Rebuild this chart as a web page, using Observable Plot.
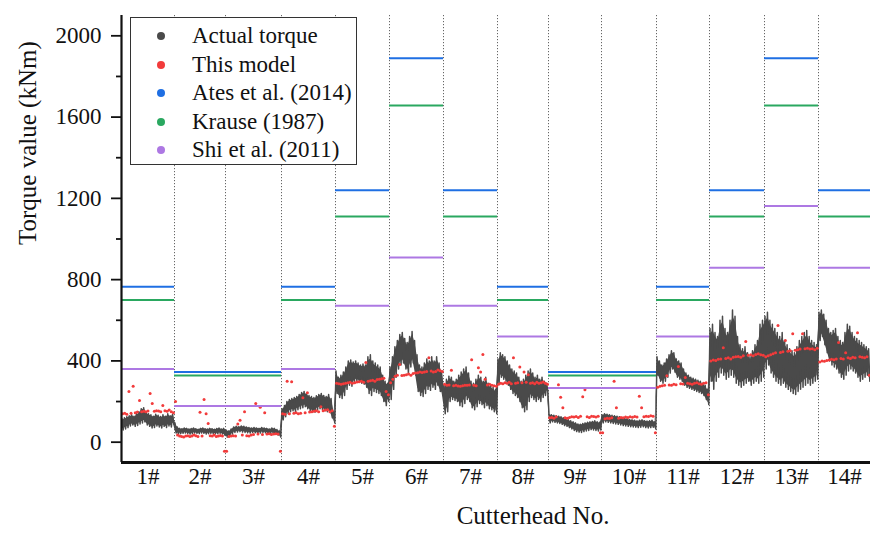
<!DOCTYPE html>
<html><head><meta charset="utf-8">
<script src="https://cdn.jsdelivr.net/npm/d3@7"></script>
<script src="https://cdn.jsdelivr.net/npm/@observablehq/plot@0.6"></script>
<style>
body{margin:0;background:#fff;font-family:"Liberation Serif","Tinos","Times New Roman","DejaVu Serif",serif;}
#wrap{position:relative;width:870px;height:538px;}
#legend{position:absolute;left:130px;top:17px;width:227px;height:148px;border:1px solid #333;background:#fff;box-sizing:border-box;}
.row{position:absolute;left:0;height:28px;font-size:23px;line-height:28px;color:#111;white-space:nowrap;}
.dot{position:absolute;left:26px;top:10px;width:8px;height:8px;border-radius:50%;}
.lab{position:absolute;left:61px;top:0;}
</style></head>
<body><div id="wrap"><div id="chart"></div><div id="legend"></div></div>
<script>
const categories = ["1#","2#","3#","4#","5#","6#","7#","8#","9#","10#","11#","12#","13#","14#"];
// number of samples per cutterhead segment (relative widths)
const segmentLengths = [53,51,56,54,54,54,54,51,53,55,53,55,54,52];

// Actual torque: upper and lower envelope of the noisy record, per segment
const actualHigh = [
 [115,120,125,130,135,128,140,150,165,170,150,140,135,128,138,132,126,135,128,140,130,138],
 [95,75,68,66,70,68,65,67,70,66,64,68,70,66,65,68,66,64,67,70,65,68],
 [60,55,65,75,78,76,80,78,75,72,70,72,70,68,72,70,68,65,70,68,62,55],
 [165,180,200,210,215,220,225,235,245,250,240,230,225,220,228,235,240,230,225,235,215,150],
 [350,320,330,345,370,400,405,395,400,390,380,385,380,420,430,400,390,380,370,330,300,290],
 [370,420,470,500,530,540,510,490,520,545,500,430,380,370,390,410,400,420,400,420,390,350],
 [280,310,325,320,300,310,330,345,360,370,340,300,290,310,330,320,300,320,290,280,270,260],
 [410,440,430,420,400,380,360,350,340,320,300,310,330,350,360,340,320,330,310,320,300,290],
 [140,135,132,130,128,125,120,115,110,105,100,95,90,88,92,95,98,100,102,105,100,98],
 [135,140,138,135,132,130,128,125,122,118,115,112,110,108,105,108,110,106,104,105,108,100],
 [420,400,380,390,410,430,450,440,410,400,390,360,340,330,320,315,310,305,300,290,280,260],
 [560,580,540,520,600,620,560,540,600,650,620,520,480,460,470,440,420,450,480,500,580,600],
 [620,640,600,580,560,540,520,540,500,480,460,450,440,470,500,520,540,550,520,500,490,480],
 [640,650,630,600,560,540,550,560,520,500,490,540,580,570,540,520,510,500,490,480,470,460]
];
const actualLow = [
 [60,65,72,80,85,78,82,90,95,100,85,78,70,72,80,75,70,78,72,80,75,90],
 [45,40,42,44,45,43,40,42,45,44,42,45,44,40,42,44,43,41,42,44,40,35],
 [25,30,40,48,50,52,50,48,46,45,48,46,44,45,48,46,44,42,45,40,35,25],
 [110,125,140,150,155,150,160,165,170,175,165,155,150,148,160,165,160,155,150,150,120,95],
 [240,220,215,230,260,280,275,290,300,295,290,285,270,240,230,250,245,240,230,200,180,200],
 [210,260,320,360,380,390,360,340,370,390,330,250,230,225,240,260,255,270,260,280,250,230],
 [140,150,200,210,205,200,180,175,190,210,200,170,160,175,190,185,170,180,165,160,150,140],
 [290,320,310,300,280,260,240,230,220,200,170,150,160,200,220,210,200,210,200,220,230,250],
 [95,100,98,95,92,88,82,78,72,65,58,52,50,48,52,55,58,62,60,58,55,60],
 [95,100,98,95,92,90,88,85,82,80,78,76,75,74,72,74,76,72,70,72,74,65],
 [330,300,290,300,320,340,360,345,320,310,300,280,270,265,260,255,250,245,240,230,210,185],
 [300,260,300,320,340,330,310,320,330,320,290,280,270,280,290,300,280,290,300,290,300,320],
 [360,380,340,320,300,290,280,290,270,260,250,240,235,250,260,270,280,290,280,290,300,310],
 [500,520,480,440,400,380,370,360,340,320,310,330,350,360,350,340,320,300,310,320,330,300]
];
// This model: predicted torque samples per segment
const modelValues = [
 [140,142,138,250,143,275,145,148,205,150,152,150,153,240,190,152,155,153,150,180,155,152,158,150,145],
 [200,35,30,28,25,30,32,28,30,35,32,28,147,30,210,140,92,32,30,35,28,30,33,30,-45],
 [-45,28,30,32,30,90,108,35,150,32,30,35,38,190,40,172,38,145,40,42,38,40,42,40,-45],
 [140,138,300,140,298,142,145,140,143,219,145,243,148,150,152,155,150,175,155,158,160,150,155,78],
 [290,288,285,288,290,292,295,290,293,296,298,300,295,392,300,302,305,300,308,310,312,315,249,234],
 [292,310,325,330,382,328,330,332,335,330,338,340,342,345,343,346,348,416,350,345,348,355,352,348],
 [285,280,282,354,278,280,276,275,278,280,280,282,406,280,278,366,346,431,310,282,285,280,278,275],
 [285,290,288,292,290,295,288,416,290,292,370,293,345,295,332,290,292,288,295,290,293,296,290,285],
 [120,122,118,125,283,221,169,120,118,122,125,124,126,122,128,224,258,125,122,128,126,124,128,47],
 [47,115,118,116,120,300,170,118,122,120,124,122,125,123,126,124,226,170,125,128,126,130,128,47],
 [270,275,278,280,327,282,280,285,283,372,288,286,318,290,288,285,290,292,288,285,290,292,234],
 [400,405,402,408,410,465,412,415,410,418,420,422,418,425,496,428,430,425,432,435,430,428],
 [420,425,430,435,440,574,442,445,500,448,450,534,452,455,458,534,460,462,458,460,455,462],
 [395,400,398,402,405,408,406,410,490,412,410,440,415,412,418,415,539,420,418,415,420,330]
];
const atesValues   = [765,345,345,765,1240,1890,1240,765,345,345,765,1240,1890,1240];
const krauseValues = [700,328,328,700,1111,1657,1111,700,328,328,700,1111,1657,1111];
const shiValues    = [360,178,178,360,672,909,672,520,267,267,520,858,1163,858];

const seriesNames = ["Actual torque","This model","Ates et al. (2014)","Krause (1987)","Shi et al. (2011)"];
const seriesColors = ["#4a4a4a","#f23b3b","#1f6fe3","#2aa860","#ad78e3"];

// build tables
const starts = [0];
segmentLengths.forEach((c,i)=>starts.push(starts[i]+c));
const total = starts[starts.length-1];
const centers = segmentLengths.map((c,i)=>starts[i]+c/2);

const actualPts = [];
const bandPts = [];
actualHigh.forEach((hi,i)=>{
  const lo = actualLow[i], n = hi.length, s = starts[i], c = segmentLengths[i];
  hi.forEach((h,j)=>{
    actualPts.push({x: s + (j+0.2)/n*c, y: h});
    actualPts.push({x: s + (j+0.7)/n*c, y: lo[j]});
    bandPts.push({x: s + (j+0.45)/n*c, lo: Math.min(lo[j], (hi[j-1] ?? h) > lo[j] ? lo[j] : lo[j]) + (h-lo[j])*0.1, hi: h - (h-lo[j])*0.1});
  });
});
const modelPts = [];
modelValues.forEach((vals,i)=>{
  const n = vals.length, s = starts[i], c = segmentLengths[i];
  vals.forEach((v,j)=>modelPts.push({x: s + (j+0.5)/n*c, y: v}));
});
const refLines = [];
[[atesValues,2],[krauseValues,3],[shiValues,4]].forEach(([arr,k])=>{
  arr.forEach((v,i)=>refLines.push({x1: starts[i], x2: starts[i+1], y: v, k}));
});

const ff = '"Liberation Serif","Tinos","Times New Roman","DejaVu Serif",serif';
const chart = Plot.plot({
  width: 870, height: 538,
  marginLeft: 121, marginRight: 0, marginTop: 15, marginBottom: 76,
  x: {domain: [0,total], axis: null},
  y: {domain: [-100,2100]},
  style: {fontFamily: ff, fontSize: "23px", color: "#111", background: "#fff"},
  marks: [
    Plot.ruleX(starts.slice(1,-1), {stroke: "#555", strokeWidth: 0.9, strokeDasharray: "1.2,1.8"}),
    Plot.areaY(bandPts, {x: "x", y1: "lo", y2: "hi", fill: seriesColors[0], curve: "linear"}),
    Plot.line(actualPts, {x: "x", y: "y", stroke: seriesColors[0], strokeWidth: 1.5}),
    Plot.dot(modelPts, {x: "x", y: "y", r: 1.5, fill: seriesColors[1], stroke: null}),
    Plot.ruleY(refLines, {y: "y", x1: "x1", x2: "x2", stroke: d=>seriesColors[d.k], strokeWidth: 2}),
    Plot.axisY({ticks: [0,400,800,1200,1600,2000], tickSize: 10, tickPadding: 10, tickFormat: d=>String(d), label: null, strokeWidth: 1.8, fontSize: 23}),
    Plot.axisY({ticks: [200,600,1000,1400,1800], tickSize: 5, tickFormat: ()=>"", label: null, strokeWidth: 1.8}),
    Plot.ruleX([0], {stroke: "#111", strokeWidth: 2.2}),
    Plot.ruleY([-100], {stroke: "#111", strokeWidth: 2.8}),
    Plot.text(categories, {x: (d,i)=>centers[i], text: d=>d, frameAnchor: "bottom", dy: 21, fontSize: 23, fill: "#111"}),
    Plot.text(["Cutterhead No."], {text: d=>d, frameAnchor: "bottom", dx: 37, dy: 61, fontSize: 25, fill: "#111"}),
    Plot.text(["Torque value (kNm)"], {text: d=>d, frameAnchor: "left", dx: -94, dy: 6, rotate: -90, fontSize: 25, fill: "#111"})
  ]
});
document.getElementById("chart").appendChild(chart);

const legend = document.getElementById("legend");
seriesNames.forEach((name,i)=>{
  const row = document.createElement("div");
  row.className = "row";
  row.style.top = (4 + i*28.6) + "px";
  row.innerHTML = `<span class="dot" style="background:${seriesColors[i]}"></span><span class="lab">${name}</span>`;
  legend.appendChild(row);
});
</script>
</body></html>
